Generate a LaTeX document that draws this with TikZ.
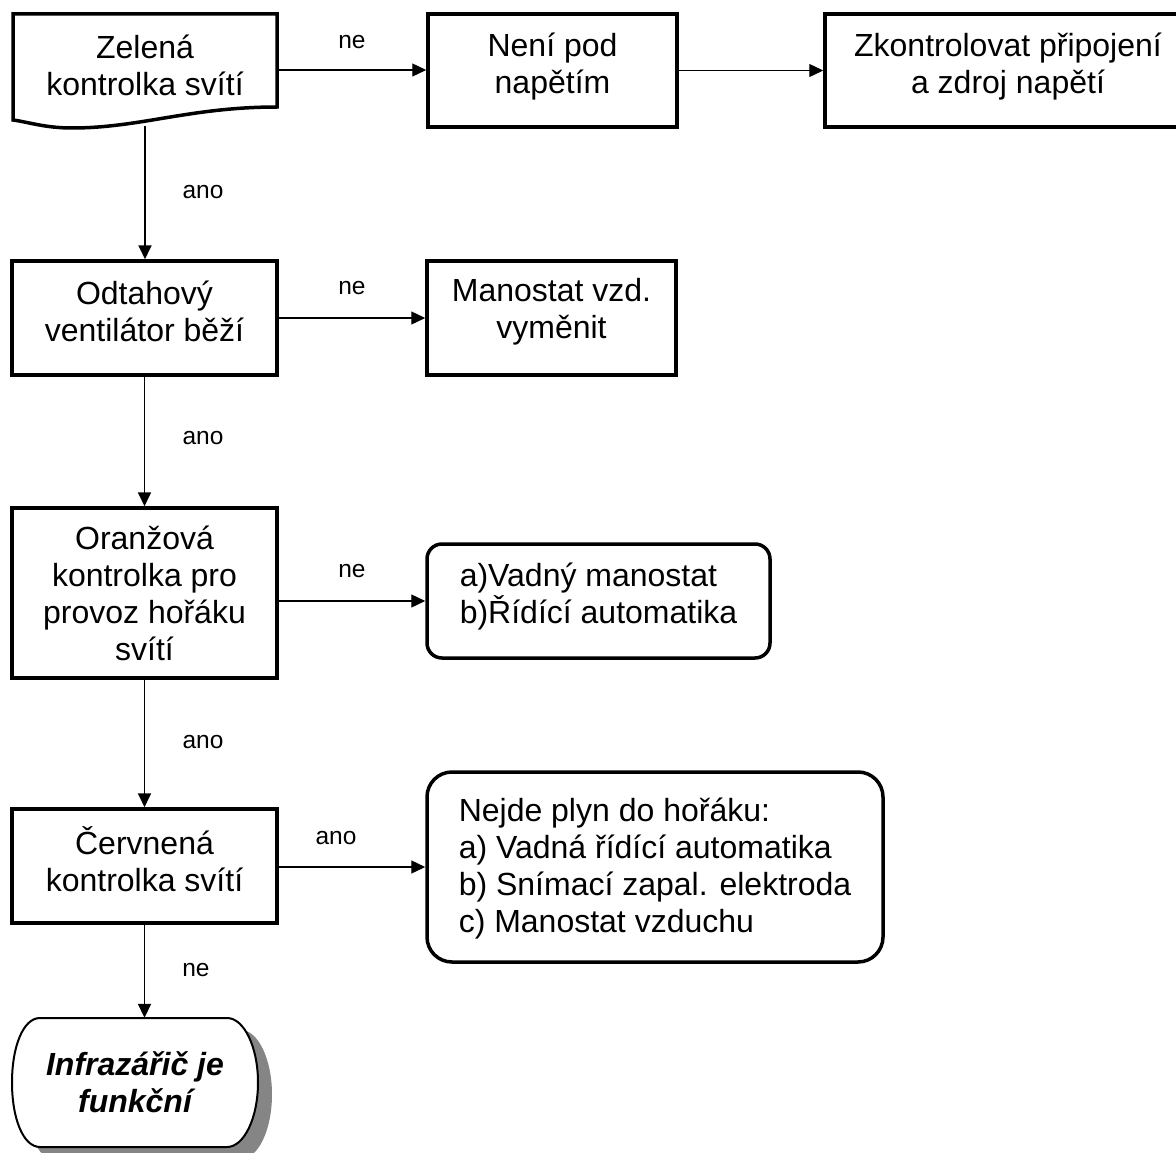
\documentclass[tikz,border=0pt]{standalone}
\usepackage{fontspec}
\setmainfont{Liberation Sans}
\usetikzlibrary{arrows.meta}
\begin{document}
\begin{tikzpicture}[x=1pt,y=-1pt,
  box/.style={draw, line width=3.5pt, inner sep=0pt},
  plain/.style={inner sep=0pt, align=center, font=\fontsize{32}{37}\selectfont},
  ltxt/.style={plain, align=left},
  lbl/.style={inner sep=0pt, font=\fontsize{24.5}{28}\selectfont},
  hconn/.style={line width=1.3pt, -{Triangle[length=14pt,width=13pt]}},
  vconn/.style={line width=1.8pt, -{Triangle[length=14pt,width=13pt]}},
  docshape/.style={line width=3.5pt, fill=white},
  shadowfill/.style={fill=black!48, draw=none}]
\useasboundingbox (0,0) rectangle (1176,1153);

% document shape
\draw[docshape] (13,14) -- (277,14) -- (277,107)
  .. controls (190,107) and (140,128) .. (72,128)
  .. controls (45,128) and (28,122) .. (13,120) -- cycle;
\node[inner sep=0pt, minimum width=264pt, minimum height=112pt] (zel) at (145,70) {};
\node[plain] (zelT) at ([yshift=5pt]zel.center) {Zelená\\kontrolka svítí};

\node[box, minimum width=249pt, minimum height=113pt] (nen) at (552.5,70.5) {};
\node[plain] (nenT) at ([yshift=4pt]nen.center) {Není pod\\napětím};
\node[box, minimum width=366pt, minimum height=113pt] (zko) at (1008,70.5) {};
\node[plain] (zkoT) at ([yshift=4pt]zko.center) {Zkontrolovat připojení\\a zdroj napětí};
\node[box, minimum width=265pt, minimum height=114pt] (odt) at (144.5,318) {};
\node[plain] (odtT) at ([yshift=7pt]odt.center) {Odtahový\\ventilátor běží};
\node[box, minimum width=249pt, minimum height=114pt] (man) at (551.5,318) {};
\node[plain] (manT) at ([yshift=6pt]man.center) {Manostat vzd.\\vyměnit};
\node[box, minimum width=265pt, minimum height=170pt] (ora) at (144.5,593) {};
\node[plain] (oraT) at (ora.center) {Oranžová\\kontrolka pro\\provoz hořáku\\svítí};
\node[box, rounded corners=15pt, minimum width=343pt, minimum height=114pt] (vad) at (598.5,601) {};
\node[ltxt] (vadT) at ([yshift=4pt]vad.center) {a)Vadný manostat\\b)Řídící automatika};
\node[box, minimum width=265pt, minimum height=114pt] (cer) at (144.5,866) {};
\node[plain] (cerT) at ([yshift=7pt]cer.center) {Červnená\\kontrolka svítí};
\node[box, rounded corners=25pt, minimum width=456pt, minimum height=190pt] (big) at (655,867) {};
\node[ltxt] (bigT) at ([yshift=-2pt]big.center) {Nejde plyn do hořáku:\\a) Vadná řídící automatika\\b) Snímací zapal. elektroda\\c) Manostat vzduchu};

% terminal with shadow
\fill[shadowfill, shift={(14,12)}] (40,1018) -- (227,1018)
  .. controls (244,1018) and (258,1047) .. (258,1082.5)
  .. controls (258,1118) and (244,1147) .. (227,1147)
  -- (40,1147)
  .. controls (23,1147) and (12,1118) .. (12,1082.5)
  .. controls (12,1047) and (23,1018) .. (40,1018) -- cycle;
\draw[line width=2pt, fill=white] (40,1018) -- (227,1018)
  .. controls (244,1018) and (258,1047) .. (258,1082.5)
  .. controls (258,1118) and (244,1147) .. (227,1147)
  -- (40,1147)
  .. controls (23,1147) and (12,1118) .. (12,1082.5)
  .. controls (12,1047) and (23,1018) .. (40,1018) -- cycle;
\node[plain, font=\fontsize{32}{37}\selectfont\bfseries\itshape, minimum width=246pt, minimum height=129pt] (ter) at (135,1082.5) {Infrazářič je\\funkční};

% connectors
\draw[hconn] (zel.east) -- (zel.east -| nen.west);
\draw[hconn] (nen.east) -- (zko.west);
\draw[hconn] (odt.east) -- (odt.east -| man.west);
\draw[hconn] (vad.west -| ora.east) -- (vad.west);
\draw[hconn] (big.west -| cer.east) -- (big.west);
\draw[vconn] (zel.south) -- (zel.south |- odt.north);
\draw[vconn] (odt.south) -- (ora.north);
\draw[vconn] (ora.south) -- (cer.north);
\draw[vconn] (cer.south) -- (cer.south |- ter.north);

% labels
\node[lbl] (l1) at (352,42) {ne};
\node[lbl] (l2) at (352,288) {ne};
\node[lbl] (l3) at (352,571) {ne};
\node[lbl] (l4) at (336,838) {ano};
\node[lbl] (l5) at (203,192) {ano};
\node[lbl] (l6) at (203,438) {ano};
\node[lbl] (l7) at (203,742) {ano};
\node[lbl] (l8) at (196,970) {ne};
\end{tikzpicture}
\end{document}
